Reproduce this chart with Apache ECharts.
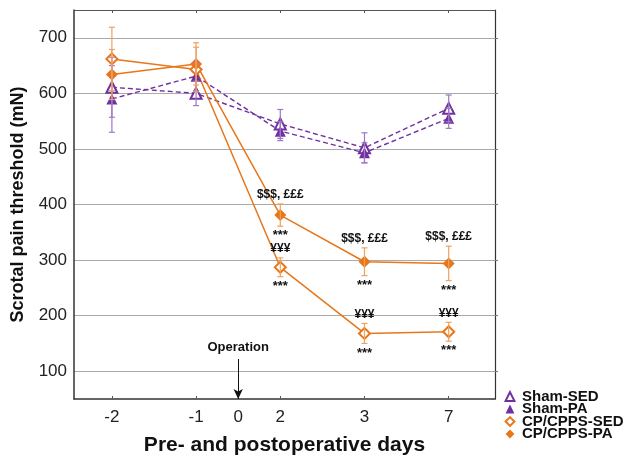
<!DOCTYPE html>
<html>
<head>
<meta charset="utf-8">
<script src="https://cdn.jsdelivr.net/npm/echarts@6/dist/echarts.min.js"></script>
<style>
  html, body { margin: 0; padding: 0; background: #fff; }
  #chart { width: 628px; height: 461px; }
</style>
</head>
<body>
<div id="chart"></div>
<script>
// days of measurement (equally spaced on the axis), plus operation day between -1 and 2
const days = ["-2", "-1", "2", "3", "7"];
const opDay = "0";
const yTicks = [100, 200, 300, 400, 500, 600, 700];

const shamSed = [611, 600, 545, 502, 573];
const shamSedErr = [54, 22, 26, 27, 24];
const shamPa = [590, 631, 532, 493, 555];
const shamPaErr = [60, 26, 17, 18, 18];
const cpSed = [662, 643, 287, 168, 171];
const cpSedErr = [57, 40, 17, 18, 17];
const cpPa = [634, 653, 381, 297, 294];
const cpPaErr = [45, 38, 20, 25, 31];

// significance marks
const cpPaAbove = ["", "", "$$$, £££", "$$$, £££", "$$$, £££"];
const cpSedAbove = ["", "", "¥¥¥", "¥¥¥", "¥¥¥"];
const cpStars = ["", "", "***", "***", "***"];

const PURPLE = "#7030a0";
const PURPLE_ERR = "#9d78c2";
const ORANGE = "#e8761a";
const ORANGE_ERR = "#efa15e";
const FONT = "Liberation Sans, Arial, sans-serif";

const opPos = (days.indexOf("-1") + days.indexOf("2")) / 2;
const labelPos = days.map((d, i) => i).concat([opPos]);
const labelText = days.concat([opDay]);

function pts(vals) {
  return vals.map((v, i) => [i, v]);
}

function errSeries(name, vals, errs, color, above, below) {
  return {
    name: name + "-err",
    type: "custom",
    z: 4,
    silent: true,
    data: vals.map((v, i) => [i, v - errs[i], v + errs[i]]),
    encode: { x: 0, y: [1, 2] },
    renderItem(params, api) {
      const lo = api.coord([api.value(0), api.value(1)]);
      const hi = api.coord([api.value(0), api.value(2)]);
      const w = 3;
      const st = { stroke: color, lineWidth: 1.2 };
      const children = [
        { type: "line", shape: { x1: lo[0], y1: lo[1], x2: hi[0], y2: hi[1] }, style: st },
        { type: "line", shape: { x1: lo[0] - w, y1: lo[1], x2: lo[0] + w, y2: lo[1] }, style: st },
        { type: "line", shape: { x1: hi[0] - w, y1: hi[1], x2: hi[0] + w, y2: hi[1] }, style: st }
      ];
      const a = above ? above[params.dataIndex] : "";
      const b = below ? below[params.dataIndex] : "";
      if (a) {
        children.push({
          type: "text", x: hi[0], y: hi[1] - 3,
          style: { text: a, fill: "#111", font: "bold 12px " + FONT, align: "center", verticalAlign: "bottom" }
        });
      }
      if (b) {
        children.push({
          type: "text", x: lo[0], y: lo[1] + 3,
          style: { text: b, fill: "#111", font: "bold 13px " + FONT, align: "center", verticalAlign: "top" }
        });
      }
      return { type: "group", children };
    }
  };
}

const chart = echarts.init(document.getElementById("chart"));
chart.setOption({
  animation: false,
  backgroundColor: "#fff",
  grid: { left: 74, right: 133, top: 10, bottom: 58 },
  legend: {
    left: 497,
    top: 384,
    orient: "vertical",
    itemWidth: 14,
    itemHeight: 11,
    itemGap: -2.5,
    lineStyle: { opacity: 0 },
    textStyle: { fontFamily: FONT, fontWeight: "bold", fontSize: 15, color: "#111" },
    data: ["Sham-SED", "Sham-PA", "CP/CPPS-SED", "CP/CPPS-PA"]
  },
  xAxis: [
    {
      type: "value",
      min: -0.45,
      max: 4.55,
      name: "Pre- and postoperative days",
      nameLocation: "middle",
      nameGap: 36,
      nameTextStyle: { fontFamily: FONT, fontWeight: "bold", fontSize: 21, color: "#111" },
      axisLine: { onZero: false, lineStyle: { color: "#333", width: 1.5 } },
      axisTick: { show: true, inside: true, length: 3, customValues: days.map((d, i) => i), lineStyle: { color: "#555" } },
      axisLabel: {
        customValues: labelPos,
        margin: 10,
        fontFamily: FONT,
        fontSize: 17,
        color: "#222",
        formatter: v => labelText[labelPos.indexOf(v)]
      },
      splitLine: { show: false }
    },
    {
      type: "value",
      position: "top",
      min: -0.45,
      max: 4.55,
      axisLine: { show: true, onZero: false, lineStyle: { color: "#555", width: 1 } },
      axisTick: { show: true, inside: true, length: 3, customValues: days.map((d, i) => i), lineStyle: { color: "#555" } },
      axisLabel: { show: false },
      splitLine: { show: false }
    }
  ],
  yAxis: [
    {
      type: "value",
      min: 50,
      max: 750,
      name: "Scrotal pain threshold (mN)",
      nameLocation: "middle",
      nameGap: 47,
      nameTextStyle: { fontFamily: FONT, fontWeight: "bold", fontSize: 18, color: "#111" },
      axisLine: { show: true, onZero: false, lineStyle: { color: "#333", width: 1.5 } },
      axisTick: { show: false, customValues: yTicks },
      axisLabel: { customValues: yTicks, margin: 7, fontFamily: FONT, fontSize: 17, color: "#222" },
      splitLine: { show: true, lineStyle: { color: "#aaa", width: 1 } }
    },
    {
      type: "value",
      position: "right",
      min: 50,
      max: 750,
      axisLine: { show: true, onZero: false, lineStyle: { color: "#333", width: 1.2 } },
      axisTick: { show: true, length: 3, customValues: yTicks, lineStyle: { color: "#777" } },
      axisLabel: { show: false },
      splitLine: { show: false }
    }
  ],
  series: [
    errSeries("Sham-SED", shamSed, shamSedErr, PURPLE_ERR),
    errSeries("Sham-PA", shamPa, shamPaErr, PURPLE_ERR),
    errSeries("CP/CPPS-SED", cpSed, cpSedErr, ORANGE_ERR, cpSedAbove, cpStars),
    errSeries("CP/CPPS-PA", cpPa, cpPaErr, ORANGE_ERR, cpPaAbove, cpStars),
    {
      name: "Sham-SED",
      type: "line",
      data: pts(shamSed),
      color: PURPLE,
      symbol: "emptyTriangle",
      symbolSize: 11,
      itemStyle: { borderWidth: 1.6 },
      lineStyle: { color: PURPLE, width: 1.4, type: [5, 3] }
    },
    {
      name: "Sham-PA",
      type: "line",
      data: pts(shamPa),
      color: PURPLE,
      symbol: "triangle",
      symbolSize: 11,
      lineStyle: { color: PURPLE, width: 1.4, type: [5, 3] }
    },
    {
      name: "CP/CPPS-SED",
      type: "line",
      data: pts(cpSed),
      color: ORANGE,
      symbol: "emptyDiamond",
      symbolSize: 11,
      itemStyle: { borderWidth: 1.6 },
      lineStyle: { color: ORANGE, width: 1.5 }
    },
    {
      name: "CP/CPPS-PA",
      type: "line",
      data: pts(cpPa),
      color: ORANGE,
      symbol: "diamond",
      symbolSize: 12,
      lineStyle: { color: ORANGE, width: 1.5 },
      markLine: {
        silent: true,
        symbol: ["none", "arrow"],
        symbolSize: [7, 10],
        lineStyle: { color: "#111", width: 1, type: "solid" },
        label: {
          show: true,
          position: "start",
          formatter: "Operation",
          fontFamily: FONT,
          fontWeight: "bold",
          fontSize: 13,
          color: "#111"
        },
        data: [[{ coord: [opPos, 122] }, { coord: [opPos, 50] }]]
      }
    }
  ]
});
</script>
</body>
</html>
